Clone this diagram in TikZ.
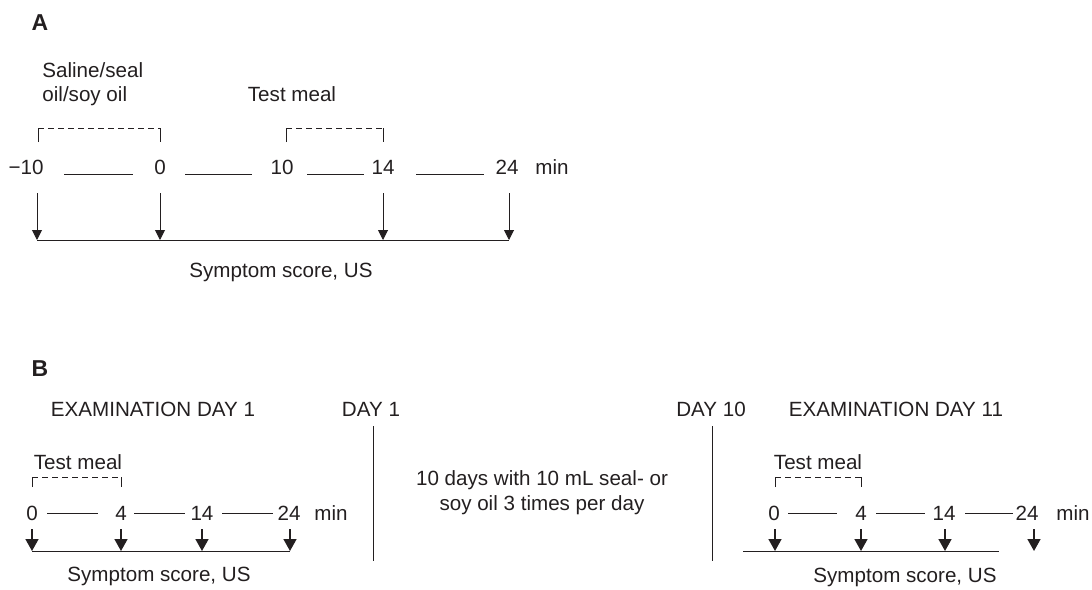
\documentclass[tikz,border=0pt]{standalone}
\usepackage{fontspec}
\setmainfont{Liberation Sans}
\usetikzlibrary{arrows.meta}
\definecolor{ink}{HTML}{231F20}
\begin{document}
\begin{tikzpicture}[x=0.5pt,y=-0.5pt,color=ink,
  txt/.style={inner sep=0pt,anchor=base,text=ink,font=\fontsize{10.3}{12.3}\selectfont},
  lbl/.style={inner sep=0pt,anchor=base,text=ink,font=\fontsize{11.5}{13}\selectfont\bfseries},
  ln/.style={draw=ink,line width=0.5pt},
  brk/.style={draw=ink,line width=0.5pt,dash pattern=on 3pt off 2pt},
  arrA/.style={draw=ink,line width=0.5pt,-{Triangle[width=5pt,length=5pt]}},
  arrB/.style={draw=ink,line width=0.8pt,-{Triangle[width=6.5pt,length=6pt]}}]
\path[use as bounding box] (0,0) rectangle (1092,589);

% ---------------- Panel A ----------------
\node[lbl] (A) at (40,30) {A};
\node[txt,anchor=base west] (sal1) at (42,77) {Saline/seal};
\node[txt,anchor=base west] (sal2) at (42,101) {oil/soy oil};
\node[txt] (tmA) at (292,101) {Test meal};

\draw[ln] (38,142) -- (38,128);
\draw[brk] (38,128) -- (160,128);
\draw[ln] (160,128) -- (160,142);
\draw[ln] (286,142) -- (286,128);
\draw[brk] (286,128) -- (383,128);
\draw[ln] (383,128) -- (383,142);

\node[txt] (am10) at (26,174) {−10};
\node[txt] (a0) at (160,174) {0};
\node[txt] (a10) at (282,174) {10};
\node[txt] (a14) at (383,174) {14};
\node[txt] (a24) at (507,174) {24};
\node[txt] (amin) at (552,174) {min};
\draw[ln] (64,174) -- (133,174);
\draw[ln] (185,174) -- (252,174);
\draw[ln] (307,174) -- (364,174);
\draw[ln] (416,174) -- (484,174);

\coordinate (at1) at (37,193);  \coordinate (ab1) at (37,240);
\coordinate (at2) at (160,193); \coordinate (ab2) at (160,240);
\coordinate (at3) at (383,193); \coordinate (ab3) at (383,240);
\coordinate (at4) at (509,193); \coordinate (ab4) at (509,240);
\draw[arrA] (at1) -- (ab1);
\draw[arrA] (at2) -- (ab2);
\draw[arrA] (at3) -- (ab3);
\draw[arrA] (at4) -- (ab4);
\draw[ln] (ab1) -- (ab4);
\node[txt] (ssA) at (281,277) {Symptom score, US};

% ---------------- Panel B ----------------
\node[lbl] (B) at (40,376) {B};
\node[txt] (ex1) at (153,416) {EXAMINATION DAY 1};
\node[txt] (d1) at (371,416) {DAY 1};
\node[txt] (d10) at (711,416) {DAY 10};
\node[txt] (ex11) at (896,416) {EXAMINATION DAY 11};

\draw[ln] (373,426) -- (373,561);
\draw[ln] (712,426) -- (712,561);

\node[txt] (mid1) at (542,485) {10 days with 10 mL seal- or};
\node[txt] (mid2) at (542,510) {soy oil 3 times per day};

% left timeline
\node[txt] (tmL) at (78,469) {Test meal};
\draw[ln] (32,487) -- (32,477);
\draw[brk] (32,477) -- (121,477);
\draw[ln] (121,477) -- (121,487);
\node[txt] (l0) at (32,520) {0};
\node[txt] (l4) at (121,520) {4};
\node[txt] (l14) at (202,520) {14};
\node[txt] (l24) at (289,520) {24};
\node[txt] (lmin) at (331,520) {min};
\draw[ln] (47,513) -- (98,513);
\draw[ln] (134,513) -- (185,513);
\draw[ln] (222,513) -- (273,513);
\coordinate (lt1) at (32,529);  \coordinate (lb1) at (32,551);
\coordinate (lt2) at (121,529); \coordinate (lb2) at (121,551);
\coordinate (lt3) at (202,529); \coordinate (lb3) at (202,551);
\coordinate (lt4) at (290,529); \coordinate (lb4) at (290,551);
\draw[arrB] (lt1) -- (lb1);
\draw[arrB] (lt2) -- (lb2);
\draw[arrB] (lt3) -- (lb3);
\draw[arrB] (lt4) -- (lb4);
\draw[ln] (lb1) -- (lb4);
\node[txt] (ssL) at (159,581) {Symptom score, US};

% right timeline
\node[txt] (tmR) at (818,469) {Test meal};
\draw[ln] (775,487) -- (775,477);
\draw[brk] (775,477) -- (861,477);
\draw[ln] (861,477) -- (861,487);
\node[txt] (r0) at (774,520) {0};
\node[txt] (r4) at (861,520) {4};
\node[txt] (r14) at (944,520) {14};
\node[txt] (r24) at (1027,520) {24};
\node[txt] (rmin) at (1073,520) {min};
\draw[ln] (788,513) -- (837,513);
\draw[ln] (876,513) -- (925,513);
\draw[ln] (965,513) -- (1013,513);
\coordinate (rt1) at (775,529);  \coordinate (rb1) at (775,551);
\coordinate (rt2) at (861,529);  \coordinate (rb2) at (861,551);
\coordinate (rt3) at (945,529);  \coordinate (rb3) at (945,551);
\coordinate (rt4) at (1034,529); \coordinate (rb4) at (1034,551);
\coordinate (rl0) at (743,551);  \coordinate (rl1) at (999,551);
\draw[arrB] (rt1) -- (rb1);
\draw[arrB] (rt2) -- (rb2);
\draw[arrB] (rt3) -- (rb3);
\draw[arrB] (rt4) -- (rb4);
\draw[ln] (rl0) -- (rl1);
\node[txt] (ssR) at (905,582) {Symptom score, US};
\end{tikzpicture}
\end{document}
